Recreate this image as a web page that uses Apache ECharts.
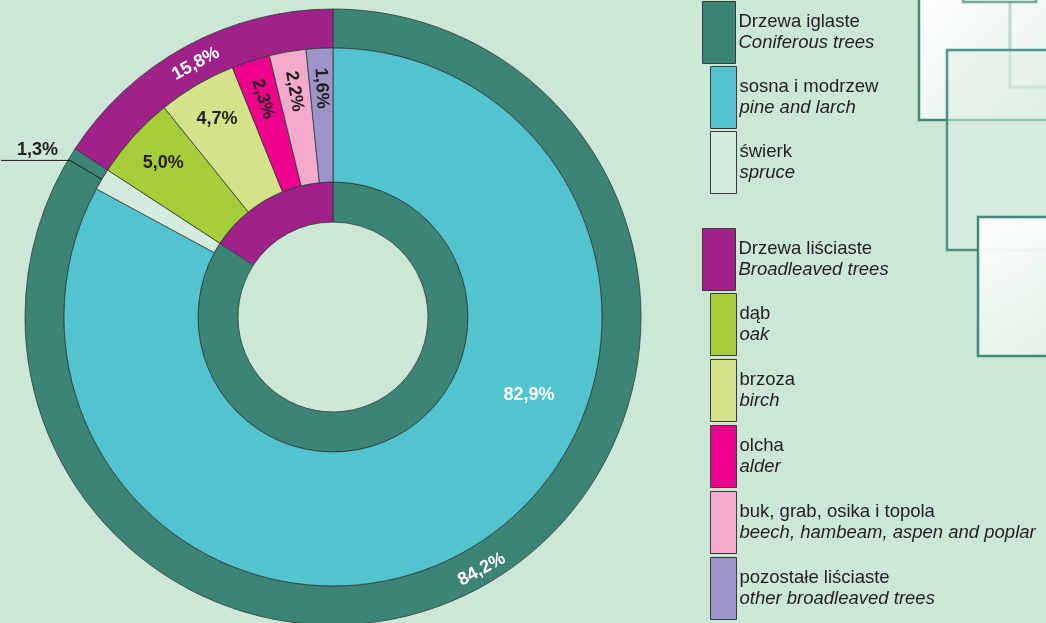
<!DOCTYPE html>
<html>
<head>
<meta charset="utf-8">
<script src="https://cdn.jsdelivr.net/npm/echarts@6/dist/echarts.min.js"></script>
<style>
  html, body { margin: 0; padding: 0; background: #cde7d6; }
  #chart { width: 1046px; height: 623px; }
</style>
</head>
<body>
<div id="chart"></div>
<script>
const groupNames = ['Drzewa iglaste', 'Drzewa liściaste']
const groupNamesEn = ['Coniferous trees', 'Broadleaved trees']
const groupValues = [84.2, 15.8]
const groupColors = ['#3c8475', '#a0218a']

const speciesNames = ['sosna i modrzew', 'świerk', 'dąb', 'brzoza', 'olcha', 'buk, grab, osika i topola', 'pozostałe liściaste']
const speciesNamesEn = ['pine and larch', 'spruce', 'oak', 'birch', 'alder', 'beech, hambeam, aspen and poplar', 'other broadleaved trees']
const speciesValues = [82.9, 1.3, 5.0, 4.7, 2.3, 2.2, 1.6]
const speciesColors = ['#52c4cf', '#d3eadc', '#a6ce39', '#d4e38a', '#ec008c', '#f4aacd', '#9b95c9']

const CX = 333, CY = 317
const FONT = '"Liberation Sans", Arial, sans-serif'
const DARK = '#231f20'

const english = {}
groupNames.forEach((n, i) => { english[n] = groupNamesEn[i] })
speciesNames.forEach((n, i) => { english[n] = speciesNamesEn[i] })

const pct = (v) => v.toFixed(1).replace('.', ',') + '%'

const polar = (r, deg) => {
  const a = deg * Math.PI / 180
  return [CX + r * Math.sin(a), CY - r * Math.cos(a)]
}

// mid angles of slices, clockwise from the top
const midAnglesOf = (values) => {
  const total = values.reduce((a, b) => a + b, 0)
  let acc = 0
  return values.map((v) => {
    const m = (acc + v / 2) / total * 360
    acc += v
    return m
  })
}
const speciesMid = midAnglesOf(speciesValues)
const groupMid = midAnglesOf(groupValues)

const labelBase = { fontFamily: FONT, fontWeight: 'bold', fontSize: 18 }
const border = { borderColor: '#2f3b37', borderWidth: 0.8 }

const groupData = groupNames.map((name, i) => ({
  name, value: groupValues[i], itemStyle: { color: groupColors[i] }
}))

const speciesData = speciesNames.map((name, i) => {
  const item = {
    name, value: speciesValues[i],
    itemStyle: { color: speciesColors[i] },
    label: { color: i === 0 ? '#fff' : DARK, rotate: i >= 4 ? 'radial' : 0 }
  }
  if (i === 1) {
    item.label = { position: 'outside', color: DARK }
    item.labelLine = { show: true, length: 38, length2: 69, lineStyle: { color: '#1a1a1a', width: 1 } }
  }
  return item
})

const legendText = {
  formatter: (name) => `{a|${name}}\n{b|${english[name]}}`,
  textStyle: {
    padding: [0, 0, 0, -2],
    rich: {
      a: { fontFamily: FONT, fontSize: 18.5, color: DARK, lineHeight: 21 },
      b: { fontFamily: FONT, fontSize: 18.5, color: DARK, fontStyle: 'italic', lineHeight: 21 }
    }
  }
}

const legendBox = (names, left, top, width, gap) => Object.assign({
  data: names, orient: 'vertical', left, top, height: 400, padding: 0,
  itemWidth: width, itemHeight: 62, itemGap: gap,
  icon: 'rect', selectedMode: false,
  itemStyle: { borderColor: '#3a3a3a', borderWidth: 1 }
}, legendText)

const grad = (a, b) => ({
  type: 'linear', x: 0, y: 0, x2: 1, y2: 1,
  colorStops: [{ offset: 0, color: a }, { offset: 1, color: b }]
})

const chart = echarts.init(document.getElementById('chart'))

chart.setOption({
  backgroundColor: '#cde7d6',
  animation: false,
  legend: [
    legendBox([groupNames[0]], 702, 1, 33, 2),
    legendBox(speciesNames.slice(0, 2), 710, 66, 26, 2),
    legendBox([groupNames[1]], 702, 228, 33, 2),
    legendBox(speciesNames.slice(2), 710, 293, 26, 3)
  ],
  graphic: [
    { type: 'rect', shape: { x: 919, y: -5, width: 140, height: 125 },
      style: { fill: grad('#ffffff', '#deeee3'), stroke: '#3f8c7c', lineWidth: 2.5 } },
    { type: 'rect', shape: { x: 1010, y: -5, width: 50, height: 92 },
      style: { fill: 'rgba(255,255,255,0.25)', stroke: 'rgba(63,140,124,0.3)', lineWidth: 3 } },
    { type: 'rect', shape: { x: 963, y: -12, width: 73, height: 14 },
      style: { fill: '#eef6f1', stroke: 'rgba(63,140,124,0.7)', lineWidth: 2.5 } },
    { type: 'rect', shape: { x: 947, y: 50, width: 110, height: 200 },
      style: { fill: 'rgba(222,238,227,0.55)', stroke: 'rgba(63,140,124,0.9)', lineWidth: 2.5 } },
    { type: 'rect', shape: { x: 978, y: 217, width: 80, height: 139 },
      style: { fill: grad('rgba(255,255,255,0.95)', 'rgba(226,241,231,0.95)'), stroke: '#3f8c7c', lineWidth: 2.5 } }
  ],
  series: [
    {
      type: 'pie', center: [CX, CY], radius: [269, 308], startAngle: 90,
      avoidLabelOverlap: false, silent: true, z: 2,
      itemStyle: border,
      label: Object.assign({ position: 'inside', rotate: 'tangential', color: '#fff', formatter: (p) => pct(p.value) }, labelBase),
      labelLine: { show: false },
      labelLayout: (p) => {
        const [x, y] = p.dataIndex === 0 ? polar(293, 149.5) : polar(288, groupMid[1])
        return { x, y, align: 'center', verticalAlign: 'middle' }
      },
      data: groupData
    },
    {
      type: 'pie', center: [CX, CY], radius: [135, 269], startAngle: 90,
      avoidLabelOverlap: false, silent: true, z: 3,
      itemStyle: border,
      label: Object.assign({ position: 'inside', formatter: (p) => pct(p.value) }, labelBase),
      labelLine: { show: false },
      labelLayout: (p) => {
        const i = p.dataIndex
        if (i === 0) {
          const [x, y] = polar(211, 111.7)
          return { x, y, align: 'center', verticalAlign: 'middle' }
        }
        if (i === 1) {
          const p0 = polar(268, speciesMid[1])
          const p1 = polar(306, speciesMid[1])
          const p2 = [p1[0] - 69, p1[1]]
          return {
            x: (p1[0] + p2[0]) / 2 + 2, y: p1[1] - 10, align: 'center', verticalAlign: 'middle',
            labelLinePoints: [p0, p1, p2]
          }
        }
        const [x, y] = polar(229, speciesMid[i])
        return { x, y, align: 'center', verticalAlign: 'middle' }
      },
      data: speciesData
    },
    {
      type: 'pie', center: [CX, CY], radius: [95, 135], startAngle: 90,
      silent: true, z: 2,
      itemStyle: border,
      label: { show: false },
      labelLine: { show: false },
      data: groupData
    }
  ]
})
</script>
</body>
</html>
